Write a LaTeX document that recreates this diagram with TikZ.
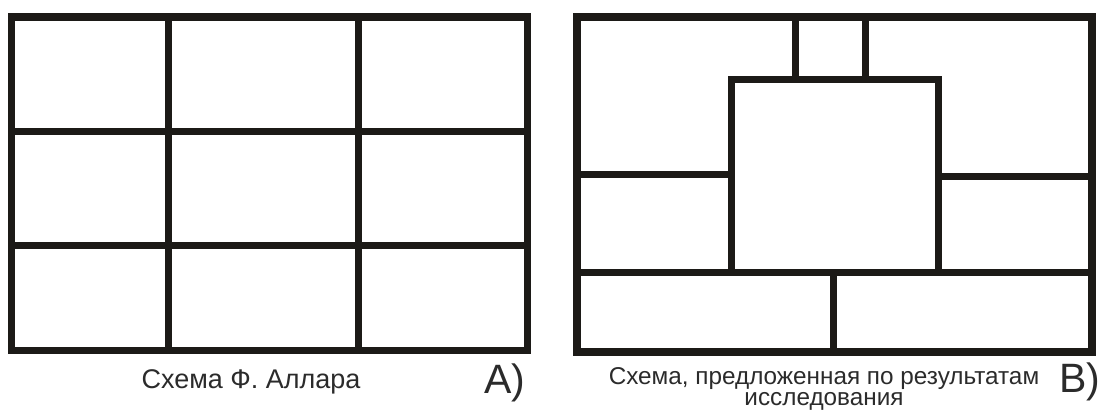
\documentclass[tikz,border=0pt]{standalone}
\usepackage{fontspec}
\setmainfont{Liberation Sans}
\usepackage{xcolor}
\usetikzlibrary{positioning}
\definecolor{wallink}{HTML}{1C1A17}
\definecolor{captiongray}{HTML}{2B2B2B}

\begin{document}
\begin{tikzpicture}[
    x=1pt,y=-1pt,
    frame/.style={draw=wallink,line width=7.5pt,line join=miter},
    wall/.style={draw=wallink,line width=7pt},
    caption/.style={text=captiongray,anchor=base,inner sep=0pt,
                    font=\fontsize{27}{21}\selectfont,align=center},
    tag/.style={text=captiongray,anchor=base,inner sep=0pt,
                font=\fontsize{41}{41}\selectfont}
  ]
    \useasboundingbox (0,0) rectangle (1102,410);
    % A) Allard
    \draw[wall] (168.5,17) -- (168.5,350.5);
    \draw[wall] (358,17) -- (358,350.5);
    \draw[wall] (11.5,131.5) -- (527.5,131.5);
    \draw[wall] (11.5,245.5) -- (527.5,245.5);
    \draw[frame] (11.5,17) rectangle (527.5,350.5);
    \node[caption] (capA) at (251,388) {Схема Ф. Аллара};
    \node[tag] (tagA) at (505,393) {A)};
    % B) proposed
    \draw[wall] (731.5,79) rectangle (938.5,272);
    \draw[wall] (795,17) -- (795,79);
    \draw[wall] (865.5,17) -- (865.5,79);
    \draw[wall] (577,174) -- (731.5,174);
    \draw[wall] (938.5,176.5) -- (1092,176.5);
    \draw[wall] (577,272) -- (1092,272);
    \draw[wall] (833.5,272) -- (833.5,352);
    \draw[frame] (577,17) rectangle (1092,352);
    \node[caption,font=\fontsize{24.3}{21}\selectfont] (capB) at (824,405)
      {Схема, предложенная по результатам\\исследования};
    \node[tag] (tagB) at (1080,392) {B)};
  \end{tikzpicture}
\end{document}
